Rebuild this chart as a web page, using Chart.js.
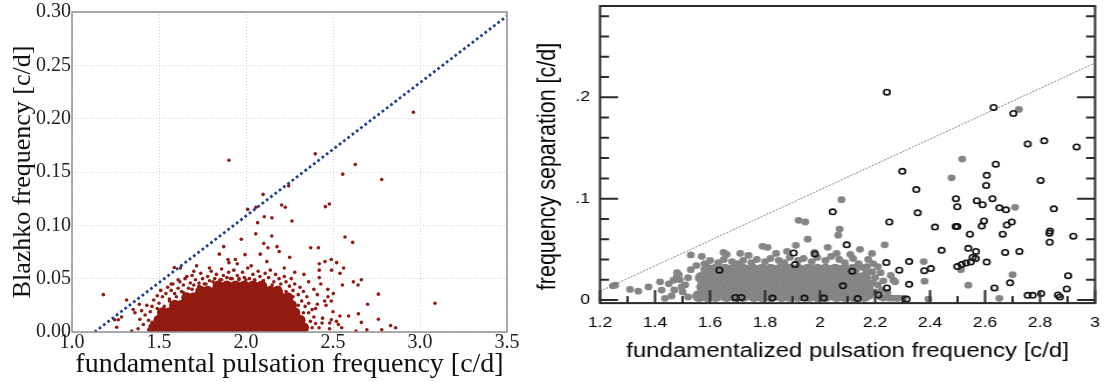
<!DOCTYPE html>
<html>
<head>
<meta charset="utf-8">
<title>Blazhko / frequency separation</title>
<script src="https://cdn.jsdelivr.net/npm/chart.js@4.4.1/dist/chart.umd.min.js"></script>
<style>
  html, body { margin: 0; padding: 0; background: #fff; }
  #wrap { position: relative; width: 1104px; height: 382px; overflow: hidden; background: #fff; }
  #leftChart { position: absolute; left: 0; top: 0; }
  /* the right panel of the figure is stretched sideways */
  #rightChart { position: absolute; left: 520px; top: 0; transform: scaleX(1.17); transform-origin: 0 0; }
</style>
</head>
<body>
<div id="wrap">
  <canvas id="leftChart" width="520" height="382"></canvas>
  <canvas id="rightChart" width="499" height="382"></canvas>
</div>
<script>
// ---------- left panel data ----------
const leftXTicks = [1.0, 1.5, 2.0, 2.5, 3.0, 3.5];
const leftXLabels = ['1.0', '1.5', '2.0', '2.5', '3.0', '3.5'];
const leftYTicks = [0, 0.05, 0.10, 0.15, 0.20, 0.25, 0.30];
const leftYLabels = ['0.00', '0.05', '0.10', '0.15', '0.20', '0.25', '0.30'];

const leftLimit = [[1.13, 0], [3.5, 0.29625]];

// dense part of the cloud
const blazhkoCore = [
  [1.47,0.004],[1.50,0.011],[1.51,0.004],[1.52,0.018],
  [1.54,0.004],[1.58,0.004],[1.63,0.004],[1.67,0.004],[1.72,0.004],[1.76,0.004],[1.81,0.004],[1.85,0.004],[1.90,0.004],[1.94,0.004],
  [1.99,0.004],[2.03,0.004],[2.08,0.004],[2.12,0.004],[2.17,0.004],[2.21,0.004],[2.26,0.004],[2.30,0.004],[2.33,0.004],
  [1.55,0.011],[1.60,0.011],[1.64,0.011],[1.69,0.011],[1.73,0.011],[1.78,0.011],[1.82,0.011],[1.87,0.011],[1.91,0.011],
  [1.96,0.011],[2.00,0.011],[2.05,0.011],[2.09,0.011],[2.14,0.011],[2.18,0.011],[2.23,0.011],[2.27,0.011],[2.31,0.011],
  [1.56,0.018],[1.61,0.018],[1.65,0.018],[1.70,0.018],[1.74,0.018],[1.79,0.018],[1.83,0.018],[1.88,0.018],[1.92,0.018],
  [1.97,0.018],[2.01,0.018],[2.06,0.018],[2.10,0.018],[2.15,0.018],[2.19,0.018],[2.24,0.018],[2.28,0.018],
  [1.59,0.025],[1.63,0.025],[1.68,0.025],[1.72,0.025],[1.77,0.025],[1.81,0.025],[1.86,0.025],[1.90,0.025],
  [1.95,0.025],[1.99,0.025],[2.04,0.025],[2.08,0.025],[2.13,0.025],[2.17,0.025],[2.22,0.025],[2.26,0.025],
  [1.66,0.032],[1.70,0.032],[1.75,0.032],[1.79,0.032],[1.84,0.032],[1.88,0.032],[1.93,0.032],[1.97,0.032],
  [2.02,0.032],[2.06,0.032],[2.11,0.032],[2.15,0.032],[2.20,0.032],[2.24,0.032],
  [1.74,0.038],[1.78,0.038],[1.83,0.038],[1.87,0.038],[1.92,0.038],[1.96,0.038],[2.01,0.038],[2.05,0.038],
  [2.10,0.038],[2.14,0.038],[2.18,0.038],
  [1.84,0.043],[1.89,0.043],[1.94,0.043],[1.99,0.043],[2.04,0.043],[2.09,0.043]
];

// single stars around and outside the cloud
const blazhkoStars = [
  [2.962,0.206],[1.902,0.161],[2.398,0.167],[2.628,0.157],[2.556,0.148],[2.780,0.143],[2.245,0.137],[2.098,0.129],
  [2.205,0.119],[2.226,0.117],[2.456,0.1175],[2.479,0.120],[2.010,0.115],[2.057,0.117],[2.105,0.108],[2.149,0.107],
  [2.264,0.104],[2.067,0.1025],[2.056,0.092],[1.973,0.087],[2.148,0.090],[2.102,0.083],[2.569,0.089],[2.613,0.084],
  [1.872,0.080],[2.178,0.080],[2.126,0.079],[2.372,0.079],[2.416,0.079],[2.082,0.073],[1.994,0.0725],[2.191,0.0755],
  [1.847,0.073],[2.251,0.070],[1.897,0.068],[1.939,0.068],[1.902,0.065],[2.490,0.068],[2.454,0.066],[2.521,0.065],
  [2.421,0.064],[2.561,0.060],[2.421,0.058],[2.492,0.058],[1.588,0.0605],[1.623,0.060],[1.716,0.062],[2.540,0.055],
  [2.333,0.054],[2.421,0.051],[2.617,0.047],[2.663,0.049],[2.644,0.044],[2.554,0.044],[1.180,0.035],[1.314,0.030],
  [2.761,0.0355],[3.086,0.027],[2.699,0.026],[2.471,0.033],[2.502,0.036],[2.452,0.029],[2.490,0.029],[2.590,0.015],
  [2.646,0.017],[2.761,0.012],[2.663,0.009],[2.831,0.006],[2.860,0.004],[2.780,0.002],[2.695,0.002],[2.632,0.001],
  [2.531,0.007],[2.540,0.015],[2.437,0.0085],[2.481,0.0085],[2.490,0.0115],[1.245,0.0115],[1.266,0.0115],[1.257,0.0045],
  [1.285,0.014],[1.343,0.001],[1.352,0.021],[1.362,0.018],[1.387,0.026],
  [1.95,0.064],[2.03,0.062],[2.12,0.066],[1.79,0.060],[1.70,0.057],[2.22,0.060],[2.28,0.056],[1.66,0.052],
  [2.36,0.047],[2.39,0.040],[1.57,0.045],[1.61,0.049],
  [1.38,0.003],[1.39,0.012],[1.40,0.020],[1.41,0.007],[1.42,0.016],[1.43,0.025],[1.44,0.011],[1.44,0.002],
  [1.45,0.019],[1.46,0.009],
  [1.46,0.024],[1.47,0.030],[1.49,0.034],[1.50,0.027],[1.51,0.039],[1.52,0.033],[1.54,0.036],[1.55,0.042],
  [1.56,0.031],[1.57,0.039],[1.58,0.045],[1.59,0.036],[1.61,0.041],[1.62,0.047],[1.63,0.038],[1.64,0.044],
  [1.65,0.050],[1.67,0.041],[1.68,0.046],[1.69,0.053],[1.70,0.044],[1.71,0.049],[1.73,0.046],[1.74,0.055],
  [1.75,0.050],[1.76,0.045],[1.78,0.052],[1.79,0.048],[1.80,0.057],[1.82,0.050],[1.83,0.054],[1.85,0.049],
  [1.86,0.059],[1.87,0.053],[1.89,0.051],[1.90,0.056],[1.92,0.050],[1.93,0.058],[1.95,0.053],[1.96,0.049],
  [1.98,0.056],[1.99,0.051],[2.01,0.060],[2.02,0.050],[2.04,0.054],[2.05,0.049],[2.07,0.057],[2.08,0.052],
  [2.10,0.048],[2.11,0.055],[2.13,0.051],[2.14,0.058],[2.16,0.047],[2.17,0.054],[2.19,0.050],[2.20,0.045],
  [2.22,0.052],[2.23,0.047],[2.25,0.043],[2.26,0.050],[2.27,0.039],[2.28,0.045],[2.30,0.035],[2.31,0.042],
  [2.32,0.029],[2.33,0.038],[2.34,0.024],[2.35,0.033],[2.36,0.018],[2.36,0.027],[2.37,0.010],[2.38,0.021],
  [2.38,0.004],[2.39,0.014],[2.40,0.008],[2.41,0.026],
  [2.42,0.004],[2.44,0.013],[2.40,0.022],[2.41,0.035],[2.46,0.025],[2.47,0.040],[2.43,0.045],[2.50,0.019],
  [2.52,0.010],[2.48,0.003],[2.55,0.004],
  [1.60,0.033],[1.64,0.037],[1.69,0.040],[1.73,0.043],[1.77,0.045],[1.81,0.047],[1.86,0.049],[1.91,0.050],
  [1.96,0.050],[2.00,0.049],[2.05,0.048],[2.10,0.048],[2.15,0.044],[2.19,0.042],[2.23,0.038],[2.27,0.033],
  [2.30,0.025],[2.33,0.018],[1.53,0.024],[1.56,0.029],[1.49,0.022]
];

// ---------- right panel data ----------
const rightXTicks = [1.2, 1.4, 1.6, 1.8, 2.0, 2.2, 2.4, 2.6, 2.8, 3.0];
const rightXLabels = ['1.2', '1.4', '1.6', '1.8', '2', '2.2', '2.4', '2.6', '2.8', '3'];
const rightXMinor = [1.3, 1.5, 1.7, 1.9, 2.1, 2.3, 2.5, 2.7, 2.9];
const rightYTicks = [0, 0.1, 0.2];
const rightYLabels = ['0', '.1', '.2'];
const rightYMinor = [0.02, 0.04, 0.06, 0.08, 0.12, 0.14, 0.16, 0.18, 0.22, 0.24, 0.26, 0.28];

const rightLimit = [[1.2, 0.00875], [3.0, 0.23375]];

const openStars = [
  [2.243,0.205],[2.631,0.190],[2.703,0.184],[2.755,0.154],[2.815,0.157],[2.933,0.151],[2.299,0.127],[2.639,0.134],
  [2.802,0.118],[2.606,0.123],[2.604,0.113],[2.350,0.109],[2.494,0.100],[2.499,0.092],[2.570,0.098],[2.591,0.094],
  [2.627,0.100],[2.652,0.091],[2.676,0.089],[2.850,0.090],[2.046,0.087],[2.355,0.086],[2.252,0.077],[2.596,0.078],
  [2.697,0.077],[2.588,0.073],[2.679,0.074],[2.418,0.072],[2.493,0.0725],[2.499,0.0725],[2.836,0.068],[2.834,0.066],
  [2.664,0.065],[2.545,0.065],[2.921,0.063],[2.835,0.057],[2.097,0.0545],[2.539,0.051],[2.442,0.049],[2.567,0.048],
  [2.673,0.047],[2.725,0.048],[1.904,0.0464],[1.981,0.0455],[2.555,0.042],[2.324,0.038],[2.241,0.037],[2.606,0.0375],
  [1.909,0.035],[2.499,0.033],[2.515,0.035],[2.531,0.0365],[2.548,0.0375],[2.566,0.041],[2.403,0.031],[2.379,0.029],
  [2.288,0.0295],[1.634,0.0295],[2.117,0.0285],[2.902,0.024],[2.324,0.0155],[2.691,0.017],[2.083,0.014],[2.243,0.012],
  [2.634,0.012],[2.897,0.011],[2.804,0.0065],[2.755,0.0047],[2.773,0.0047],[2.865,0.005],[2.872,0.003],[2.212,0.005],
  [1.692,0.0026],[1.714,0.0026],[1.827,0.002],[1.943,0.002],[2.014,0.002],[2.137,0.0015],[2.315,0.001]
];

// dense grey cloud
const filledCore = [
  [1.56,0.004],[1.59,0.004],[1.62,0.004],[1.66,0.004],[1.69,0.004],[1.72,0.004],[1.76,0.004],[1.79,0.004],[1.82,0.004],[1.86,0.004],
  [1.89,0.004],[1.92,0.004],[1.96,0.004],[1.99,0.004],[2.02,0.004],[2.06,0.004],[2.09,0.004],[2.12,0.004],[2.16,0.004],
  [1.575,0.013],[1.61,0.013],[1.64,0.013],[1.675,0.013],[1.71,0.013],[1.74,0.013],[1.775,0.013],[1.81,0.013],[1.84,0.013],[1.875,0.013],
  [1.91,0.013],[1.94,0.013],[1.975,0.013],[2.01,0.013],[2.04,0.013],[2.075,0.013],[2.11,0.013],[2.14,0.013],[2.17,0.013],
  [1.57,0.022],[1.60,0.022],[1.63,0.022],[1.67,0.022],[1.70,0.022],[1.73,0.022],[1.77,0.022],[1.80,0.022],[1.83,0.022],[1.87,0.022],
  [1.90,0.022],[1.93,0.022],[1.97,0.022],[2.00,0.022],[2.03,0.022],[2.07,0.022],[2.10,0.022],[2.13,0.022],[2.16,0.022],
  [1.59,0.030],[1.62,0.030],[1.655,0.030],[1.69,0.030],[1.72,0.030],[1.755,0.030],[1.79,0.030],[1.82,0.030],[1.855,0.030],
  [1.89,0.030],[1.92,0.030],[1.955,0.030],[1.99,0.030],[2.02,0.030],[2.055,0.030],[2.09,0.030],[2.12,0.030]
];

const filledStars = [
  [2.723,0.188],[2.517,0.139],[2.478,0.1205],[2.078,0.099],[2.709,0.0915],[1.922,0.0786],[1.946,0.077],[2.071,0.070],
  [2.066,0.064],[1.955,0.060],[2.235,0.0545],[1.912,0.054],[2.028,0.052],[1.791,0.053],[1.809,0.052],[1.649,0.047],
  [1.530,0.0445],[2.145,0.050],[2.377,0.038],[2.380,0.0186],[2.394,0.001],[2.539,0.0147],[2.700,0.025],[2.652,0.0017],
  [2.512,0.030],[2.257,0.0243],[2.264,0.002],[2.284,0.002],[2.304,0.002],[1.255,0.0147],[1.247,0.014],[1.309,0.0105],
  [1.339,0.0088],[1.376,0.013],[1.418,0.018],[1.424,0.0098],[1.436,0.0017],[1.467,0.0196],[1.497,0.013],[1.479,0.0228],
  [1.486,0.025],[2.189,0.046],[2.21,0.033],[2.22,0.027],[2.23,0.019],[2.245,0.0075],[2.18,0.004],[2.169,0.027],
  [2.19,0.017],[2.156,0.032],[2.175,0.040],[2.193,0.036],[2.267,0.0196],[2.224,0.0098],[2.279,0.0017],[2.273,0.018],
  [2.23,0.002],[2.25,0.002],[2.18,0.0098],
  [1.53,0.030],[1.55,0.034],[1.58,0.036],[1.60,0.039],[1.63,0.037],[1.65,0.040],[1.68,0.038],[1.70,0.036],
  [1.72,0.039],[1.75,0.037],[1.77,0.040],[1.80,0.038],[1.82,0.041],[1.85,0.039],[1.87,0.037],[1.89,0.042],
  [1.92,0.039],[1.94,0.041],[1.97,0.038],[1.99,0.042],[2.02,0.039],[2.04,0.043],[2.07,0.040],[2.09,0.037],
  [2.12,0.041],[2.14,0.036],[2.17,0.033],[2.19,0.028],[2.20,0.022],[2.21,0.015],[2.20,0.008],[2.22,0.003],
  [1.52,0.022],[1.51,0.015],[1.50,0.008],[1.52,0.003],[1.49,0.020],[1.47,0.010],[1.46,0.004],[1.48,0.027],[1.45,0.016],
  [1.57,0.043],[1.66,0.045],[1.74,0.044],[1.84,0.046],[1.98,0.047],[2.06,0.046],[2.11,0.045],[1.88,0.048],[1.71,0.046]
];

// ---------- helpers ----------
const toXY = arr => arr.map(([x, y]) => ({x, y}));
const serif = '"Liberation Serif", "DejaVu Serif", serif';
const sans = '"Liberation Sans", Arial, sans-serif';

// box round the plot, plus tick marks that point inwards
function makeFrame(cfg) {
  return {
    id: 'frame',
    afterDatasetsDraw(chart) {
      const {ctx, chartArea: a, scales: {x, y}} = chart;
      ctx.save();
      ctx.strokeStyle = cfg.color;
      ctx.lineWidth = cfg.width;
      (cfg.marks || []).forEach(m => {
        m.values.forEach(v => {
          ctx.beginPath();
          if (m.axis === 'y') {
            const py = y.getPixelForValue(v);
            ctx.moveTo(a.left, py); ctx.lineTo(a.left + m.len, py);
            ctx.moveTo(a.right, py); ctx.lineTo(a.right - m.len, py);
          } else {
            const px = x.getPixelForValue(v);
            ctx.moveTo(px, a.bottom); ctx.lineTo(px, a.bottom - m.len);
          }
          ctx.stroke();
        });
      });
      ctx.strokeRect(a.left, a.top, a.right - a.left, a.bottom - a.top);
      ctx.restore();
    }
  };
}

// ---------- left chart ----------
new Chart(document.getElementById('leftChart'), {
  type: 'scatter',
  data: {
    datasets: [
      {
        data: toXY(leftLimit),
        showLine: true,
        borderColor: '#1b3f91',
        borderWidth: 2.7,
        borderDash: [2.7, 2.7],
        pointRadius: 0,
        fill: false,
        clip: 0
      },
      {
        data: toXY(blazhkoStars),
        pointRadius: 1.8,
        pointBorderWidth: 0,
        backgroundColor: '#921a0f',
        clip: 0
      },
      {
        data: toXY(blazhkoCore),
        pointRadius: 5.6,
        pointBorderWidth: 0,
        backgroundColor: '#921a0f',
        clip: 0
      }
    ]
  },
  options: {
    responsive: false,
    animation: false,
    devicePixelRatio: 1,
    layout: { padding: { left: 0, right: 13, top: 12, bottom: 0 } },
    plugins: { legend: { display: false }, tooltip: { enabled: false } },
    scales: {
      x: {
        type: 'linear',
        min: 1.0,
        max: 3.5,
        afterBuildTicks: s => { s.ticks = leftXTicks.map(v => ({value: v})); },
        afterFit: s => { s.height = 50; s.paddingLeft = 0; s.paddingRight = 0; },
        grid: { color: '#d2d2d2', lineWidth: 1, drawTicks: false },
        border: { display: false, dash: [1, 2] },
        ticks: {
          padding: 1,
          autoSkip: false,
          maxRotation: 0,
          color: '#222',
          font: { family: serif, size: 20, lineHeight: 1 },
          callback: (v, i) => leftXLabels[i]
        },
        title: {
          display: true,
          text: 'fundamental pulsation frequency [c/d]',
          color: '#111',
          font: { family: serif, size: 28, lineHeight: 1 },
          padding: { top: 0, bottom: 3 }
        }
      },
      y: {
        type: 'linear',
        min: 0,
        max: 0.30,
        afterBuildTicks: s => { s.ticks = leftYTicks.map(v => ({value: v})); },
        afterFit: s => { s.width = 72; s.paddingTop = 0; s.paddingBottom = 0; },
        grid: { color: '#d2d2d2', lineWidth: 1, drawTicks: false },
        border: { display: false, dash: [1, 2] },
        ticks: {
          padding: 1,
          autoSkip: false,
          color: '#222',
          font: { family: serif, size: 20, lineHeight: 1 },
          callback: (v, i) => leftYLabels[i]
        },
        title: {
          display: true,
          text: 'Blazhko frequency [c/d]',
          color: '#111',
          font: { family: serif, size: 26, lineHeight: 1 },
          padding: { top: 10, bottom: 0 }
        }
      }
    }
  },
  plugins: [makeFrame({ color: '#8f8f8f', width: 1.5 })]
});

// ---------- right chart ----------
new Chart(document.getElementById('rightChart'), {
  type: 'scatter',
  data: {
    datasets: [
      {
        data: toXY(openStars),
        pointRadius: 2.7,
        pointBorderWidth: 1.6,
        borderColor: '#111',
        backgroundColor: 'rgba(0,0,0,0)',
        clip: 0
      },
      {
        data: toXY(rightLimit),
        showLine: true,
        borderColor: '#666',
        borderWidth: 1,
        borderDash: [1.5, 1.5],
        pointRadius: 0,
        fill: false,
        clip: 0
      },
      {
        data: toXY(filledStars),
        pointRadius: 3.4,
        pointBorderWidth: 0,
        backgroundColor: '#858585',
        clip: 0
      },
      {
        data: toXY(filledCore),
        pointRadius: 6,
        pointBorderWidth: 0,
        backgroundColor: '#858585',
        clip: 0
      }
    ]
  },
  options: {
    responsive: false,
    animation: false,
    devicePixelRatio: 1,
    layout: { padding: { left: 0, right: 7.5, top: 3.8, bottom: 0 } },
    plugins: { legend: { display: false }, tooltip: { enabled: false } },
    scales: {
      x: {
        type: 'linear',
        min: 1.2,
        max: 3.0,
        afterBuildTicks: s => { s.ticks = rightXTicks.map(v => ({value: v})); },
        afterFit: s => { s.height = 78.9; s.paddingLeft = 0; s.paddingRight = 0; },
        grid: { display: false, drawTicks: false },
        border: { display: false },
        ticks: {
          padding: 12,
          autoSkip: false,
          maxRotation: 0,
          color: '#000',
          font: { family: sans, size: 15, lineHeight: 1 },
          callback: (v, i) => rightXLabels[i]
        },
        title: {
          display: true,
          text: 'fundamentalized pulsation frequency [c/d]',
          color: '#000',
          font: { family: sans, size: 20.5, lineHeight: 1 },
          padding: { top: 0, bottom: 20 }
        }
      },
      y: {
        type: 'linear',
        min: -0.003,
        max: 0.29,
        afterBuildTicks: s => { s.ticks = rightYTicks.map(v => ({value: v})); },
        afterFit: s => { s.width = 68.4; s.paddingTop = 0; s.paddingBottom = 0; },
        grid: { display: false, drawTicks: false },
        border: { display: false },
        ticks: {
          padding: 8.6,
          autoSkip: false,
          color: '#000',
          font: { family: sans, size: 15, lineHeight: 1 },
          callback: (v, i) => rightYLabels[i]
        },
        title: {
          display: true,
          // trailing spaces push the rotated label down, as in the figure
          text: 'frequency separation [c/d]\u00a0\u00a0\u00a0\u00a0',
          color: '#000',
          font: { family: sans, size: 21.5, lineHeight: 1 },
          padding: { top: 13.5, bottom: 0 }
        }
      }
    }
  },
  plugins: [makeFrame({
    color: '#2b2b2b',
    width: 2,
    marks: [
      { axis: 'y', values: rightYTicks, len: 15.4 },
      { axis: 'y', values: rightYMinor, len: 7.7 },
      { axis: 'x', values: rightXTicks, len: 13 },
      { axis: 'x', values: rightXMinor, len: 7 }
    ]
  })]
});
</script>
</body>
</html>
